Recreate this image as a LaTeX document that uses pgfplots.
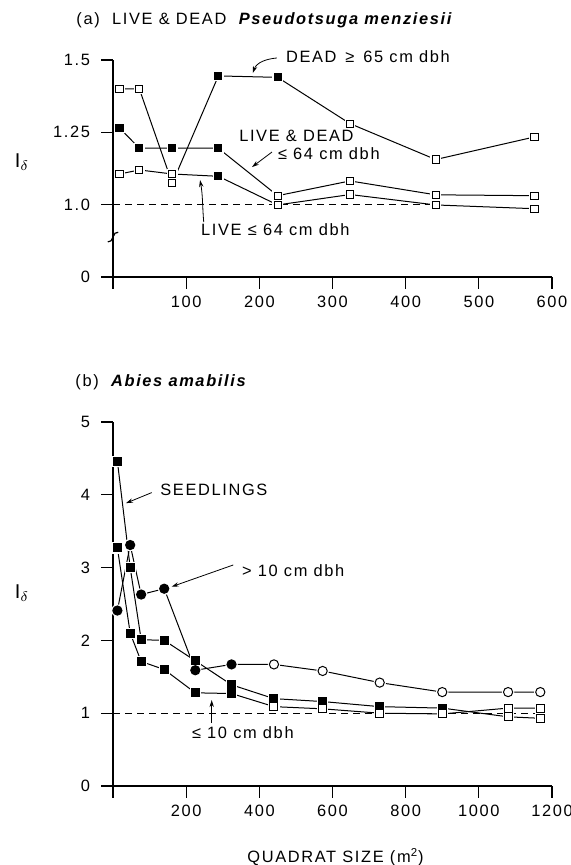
\documentclass[border=0pt]{standalone}
\usepackage{fontspec}
\setmainfont{Liberation Sans}[LetterSpace=10]
\usepackage{pgfplots}
\usepackage{pgfplotstable}
\pgfplotsset{compat=1.18}
\usetikzlibrary{arrows.meta}

% panel (a): Pseudotsuga menziesii, f = filled (significant), o = open
\pgfplotstableread{
x y f
9 1.400 o
36 1.400 o
81 1.074 o
144 1.445 f
225 1.440 f
324 1.280 o
441 1.156 o
576 1.234 o
}\deadbig
\pgfplotstableread{
x y f
9 1.265 f
36 1.195 f
81 1.195 f
144 1.195 f
225 1.031 o
324 1.082 o
441 1.034 o
576 1.031 o
}\livedead
\pgfplotstableread{
x y f
9 1.106 o
36 1.120 o
81 1.106 o
144 1.098 f
225 0.999 o
324 1.035 o
441 0.999 o
576 0.986 o
}\live

% panel (b): Abies amabilis
\pgfplotstableread{
x y f
12 4.46 f
47 3.00 f
77 2.01 f
140 2.00 f
225 1.72 f
324 1.39 f
440 1.20 f
573 1.16 f
729 1.09 f
900 1.07 f
1080 0.95 o
1168 0.93 o
}\seedl
\pgfplotstableread{
x y f
12 3.27 f
47 2.10 f
77 1.71 f
140 1.60 f
225 1.28 f
324 1.27 f
440 1.09 o
573 1.06 o
729 1.00 o
900 0.99 o
1080 1.07 o
1168 1.07 o
}\smalldbh
\pgfplotstableread{
x y f
12 2.41 f
47 3.31 f
77 2.63 f
140 2.71 f
225 1.59 f
324 1.67 f
440 1.67 o
573 1.58 o
729 1.42 o
900 1.29 o
1080 1.29 o
1168 1.29 o
}\bigdbh

\tikzset{
  ann/.style={-{Stealth[length=3.5pt,width=2.2pt]}, line width=0.4pt},
  lab/.style={anchor=west, inner sep=0pt},
}
\pgfplotsset{
  panel/.style={
    scale only axis, clip=false,
    axis lines=left, axis line style={-, line width=0.6pt},
    tick align=outside, major tick length=6pt,
    tick style={black, line width=0.6pt},
    ticklabel style={font=\fontsize{8.2}{9.5}\selectfont},
    yticklabel style={xshift=-2pt},
    /pgf/number format/assume math mode=true,
  },
  serline/.style={black, line width=0.5pt, mark=none},
  refline/.style={black, line width=0.5pt, dash pattern=on 3.5pt off 2.5pt},
  halo/.style={only marks, mark=#1, mark options={draw=white, fill=white}},
  sqpts/.style={only marks, scatter, point meta=explicit symbolic,
    scatter/classes={f={mark=square*, draw=black, fill=black},
                     o={mark=square*, draw=black, fill=white}}},
  cipts/.style={only marks, scatter, point meta=explicit symbolic,
    scatter/classes={f={mark=*, draw=black, fill=black},
                     o={mark=*, draw=black, fill=white}}},
}

\begin{document}
\begin{tikzpicture}[font=\fontsize{8.2}{9.5}\selectfont]
\path[use as bounding box] (0,0) rectangle (285.5pt,432.5pt);

\begin{axis}[panel, at={(56.5pt,294pt)}, anchor=south west,
  width=219.5pt, height=108.5pt,
  xmin=0, xmax=600, ymin=0.75, ymax=1.5,
  xtick={0,100,...,600}, xticklabels={,100,200,300,400,500,600},
  ytick={0.75,1,1.25,1.5}, yticklabels={0,1.0,1.25,1.5}]
\addplot[refline] coordinates {(0,1) (441,1)};
\addplot[serline] table[x=x,y=y] {\deadbig};
\addplot[serline] table[x=x,y=y] {\livedead};
\addplot[serline] table[x=x,y=y] {\live};
\addplot[halo=square*, mark size=2.4pt] table[x=x,y=y] {\deadbig};
\addplot[halo=square*, mark size=2.4pt] table[x=x,y=y] {\livedead};
\addplot[halo=square*, mark size=2.4pt] table[x=x,y=y] {\live};
\addplot[sqpts, mark size=1.8pt, mark options={line width=0.5pt}] table[x=x,y=y,meta=f] {\deadbig};
\addplot[sqpts, mark size=1.8pt, mark options={line width=0.5pt}] table[x=x,y=y,meta=f] {\livedead};
\addplot[sqpts, mark size=1.8pt, mark options={line width=0.5pt}] table[x=x,y=y,meta=f] {\live};
% axis break
\draw[line width=0.6pt] (axis cs:0,0.888) ++(-2.6pt,-2.4pt) -- ++(1.6pt,0.5pt) -- ++(2pt,3.8pt) -- ++(1.6pt,0.5pt);
\node[lab] at (axis cs:236,1.51) {DEAD \,≥\, 65 cm dbh};
\draw[ann] (axis cs:224,1.507) to[out=185,in=70] (axis cs:191,1.455);
\node[lab] at (axis cs:172,1.237) {LIVE \& DEAD};
\node[lab] at (axis cs:225,1.175) {≤ 64 cm dbh};
\draw[ann] (axis cs:217.3,1.182) -- (axis cs:190,1.130);
\node[lab] at (axis cs:120,0.9125) {LIVE ≤ 64 cm dbh};
\draw[ann] (axis cs:124,0.94) to[out=95,in=-80] (axis cs:119,1.085);
\end{axis}

\begin{axis}[panel, at={(56.5pt,39.5pt)}, anchor=south west,
  width=219.5pt, height=182pt,
  xmin=0, xmax=1200, ymin=0, ymax=5,
  xtick={0,200,...,1200}, xticklabels={,200,400,600,800,1000,1200},
  ytick={0,1,...,5}]
\addplot[refline] coordinates {(0,1) (1168,1)};
\addplot[serline] table[x=x,y=y] {\seedl};
\addplot[serline] table[x=x,y=y] {\smalldbh};
\addplot[serline] table[x=x,y=y] {\bigdbh};
\addplot[halo=square*, mark size=2.6pt] table[x=x,y=y] {\seedl};
\addplot[halo=square*, mark size=2.6pt] table[x=x,y=y] {\smalldbh};
\addplot[halo=*, mark size=2.9pt] table[x=x,y=y] {\bigdbh};
\addplot[sqpts, mark size=2pt, mark options={line width=0.5pt}] table[x=x,y=y,meta=f] {\seedl};
\addplot[sqpts, mark size=2pt, mark options={line width=0.5pt}] table[x=x,y=y,meta=f] {\smalldbh};
\addplot[cipts, mark size=2.3pt, mark options={line width=0.5pt}] table[x=x,y=y,meta=f] {\bigdbh};
\node[lab] at (axis cs:128.5,4.066) {SEEDLINGS};
\draw[ann] (axis cs:105.8,4.03) -- (axis cs:35.5,3.885);
\node[lab] at (axis cs:351.8,2.957) {> 10 cm dbh};
\draw[ann] (axis cs:328.8,3.036) -- (axis cs:160.5,2.738);
\node[lab] at (axis cs:214.9,0.728) {≤ 10 cm dbh};
\draw[ann] (axis cs:269.8,0.865) -- (axis cs:269.8,1.18);
\end{axis}

\node[lab] at (38pt,422.5pt) {(a) \ LIVE \& DEAD \ \textbf{\textit{Pseudotsuga menziesii}}};
\node[lab] at (37.5pt,241.6pt) {(b) \ \textbf{\textit{Abies amabilis}}};
\node at (11pt,351.5pt) {\fontsize{10}{11}\selectfont$\mathrm{I}_{\delta}$};
\node at (11pt,136pt) {\fontsize{10}{11}\selectfont$\mathrm{I}_{\delta}$};
\node at (167.75pt,4pt) {QUADRAT SIZE (m\textsuperscript{2})};
\end{tikzpicture}
\end{document}
